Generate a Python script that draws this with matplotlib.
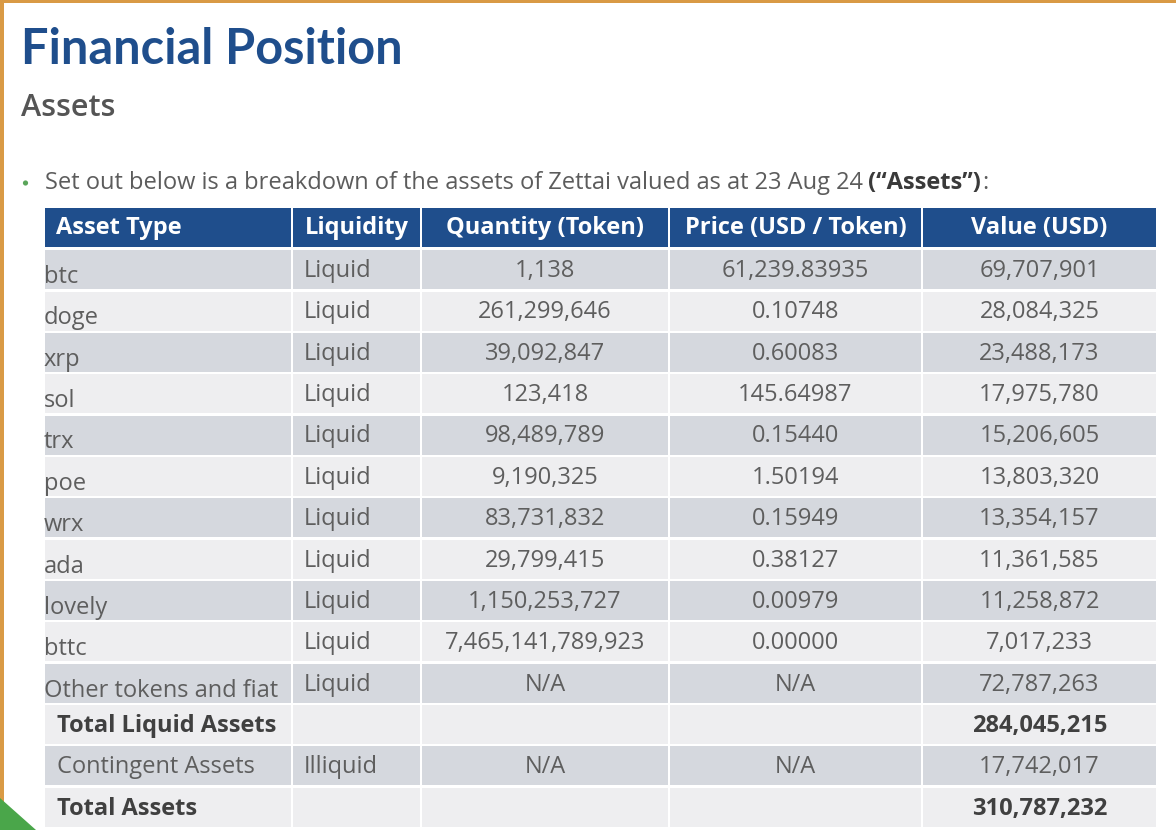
import matplotlib
matplotlib.use('Agg')
import matplotlib.pyplot as plt
from matplotlib.patches import Rectangle, Polygon, Circle

plt.rcParams['font.family'] = ['Open Sans', 'DejaVu Sans']

# table content
headers = ['Asset Type', 'Liquidity', 'Quantity (Token)', 'Price (USD / Token)', 'Value (USD)']
asset_types = ['btc', 'doge', 'xrp', 'sol', 'trx', 'poe', 'wrx', 'ada', 'lovely', 'bttc',
               'Other tokens and fiat', 'Total Liquid Assets', 'Contingent Assets', 'Total Assets']
liquidity = ['Liquid'] * 11 + ['', 'Illiquid', '']
quantity = [1138, 261299646, 39092847, 123418, 98489789, 9190325, 83731832, 29799415,
            1150253727, 7465141789923, 'N/A', None, 'N/A', None]
price = [61239.83935, 0.10748, 0.60083, 145.64987, 0.15440, 1.50194, 0.15949, 0.38127,
         0.00979, 0.00000, 'N/A', None, 'N/A', None]
value_usd = [69707901, 28084325, 23488173, 17975780, 15206605, 13803320, 13354157,
             11361585, 11258872, 7017233, 72787263, 284045215, 17742017, 310787232]
total_rows = ['Total Liquid Assets', 'Total Assets']


def fmt_qty(q):
    if q is None:
        return ''
    return q if isinstance(q, str) else f'{q:,}'


def fmt_price(p):
    if p is None:
        return ''
    return p if isinstance(p, str) else f'{p:,.5f}'


W, H = 1176, 830
fig = plt.figure(figsize=(W / 100, H / 100), dpi=100)
ax = fig.add_axes([0, 0, 1, 1])
ax.set_xlim(0, W)
ax.set_ylim(H, 0)
ax.axis('off')

blue = '#1f4e8c'
grey_txt = '#5e5e5e'
dark_txt = '#404040'
row_dark = '#d5d8de'
row_light = '#eeeef0'
fs = 17

# slide frame
ax.add_patch(Rectangle((0, 0), W, 3.5, color='#d99a45', lw=0))
ax.add_patch(Rectangle((0, 0), 3.5, H, color='#d99a45', lw=0))
ax.add_patch(Polygon([(0, 798), (0, H), (36, H)], closed=True, color='#4aa64a', lw=0))

# titles
ax.text(21, 50, 'Financial Position', fontsize=35, fontweight='bold', color=blue, va='center',
        family=['Lato', 'DejaVu Sans'])
ax.text(21, 108, 'Assets', fontsize=22, fontweight='semibold', color='#555555', va='center')

ax.add_patch(Circle((25.5, 183), 2.6, color='#5aa55a', lw=0))
intro = 'Set out below is a breakdown of the assets of Zettai valued as at 23 Aug 24'
t1 = ax.text(45, 189, intro, fontsize=fs, color='#5c5c5c', va='baseline')
r = fig.canvas.get_renderer()
bb = t1.get_window_extent(r)
x_end = ax.transData.inverted().transform((bb.x1, bb.y0))[0] + 5
t2 = ax.text(x_end, 189, '(\u201cAssets\u201d)', fontsize=fs, fontweight='bold', color='#3a3a3a', va='baseline')
bb2 = t2.get_window_extent(r)
x_end2 = ax.transData.inverted().transform((bb2.x1, bb2.y0))[0]
ax.text(x_end2 + 1, 189, ':', fontsize=fs, color='#5c5c5c', va='baseline')

# table geometry
col_edges = [44, 292, 421, 669, 922, 1157]
head_top, head_bot = 208, 247
row_top = 249
row_h = (828 - row_top) / len(asset_types)
gap = 1.2

# header
for i, h in enumerate(headers):
    x0, x1 = col_edges[i], col_edges[i + 1]
    ax.add_patch(Rectangle((x0 + gap, head_top), x1 - x0 - 2 * gap, head_bot - head_top, color=blue, lw=0))
    if i == 0:
        ax.text(x0 + 12, (head_top + head_bot) / 2, h, fontsize=fs, fontweight='bold', color='white', va='center')
    else:
        ax.text((x0 + x1) / 2, (head_top + head_bot) / 2, h, fontsize=fs, fontweight='bold', color='white',
                va='center', ha='center')

# body
for k, name in enumerate(asset_types):
    y0 = row_top + k * row_h
    bg = row_dark if k % 2 == 0 else row_light
    for i in range(5):
        x0, x1 = col_edges[i], col_edges[i + 1]
        ax.add_patch(Rectangle((x0 + gap, y0 + gap), x1 - x0 - 2 * gap, row_h - 2 * gap, color=bg, lw=0))
    bold = name in total_rows
    tc = dark_txt if bold else grey_txt
    fw = 'bold' if bold else 'normal'
    yb = y0 + 28
    if bold or name == 'Contingent Assets':
        ax.text(col_edges[0] + 13, yb, name, fontsize=fs, fontweight=fw, color=tc, va='baseline')
    else:
        ax.text(col_edges[0], yb + 6, name, fontsize=fs, color=tc, va='baseline')
    ax.text(col_edges[1] + 12, yb, liquidity[k], fontsize=fs, color=tc, va='baseline')
    ax.text((col_edges[2] + col_edges[3]) / 2, yb, fmt_qty(quantity[k]), fontsize=fs, color=tc,
            va='baseline', ha='center')
    ax.text((col_edges[3] + col_edges[4]) / 2, yb, fmt_price(price[k]), fontsize=fs, color=tc,
            va='baseline', ha='center')
    ax.text((col_edges[4] + col_edges[5]) / 2, yb, f'{value_usd[k]:,}', fontsize=fs, fontweight=fw,
            color=tc, va='baseline', ha='center')

fig.savefig('out.png', dpi=100, facecolor='white')
